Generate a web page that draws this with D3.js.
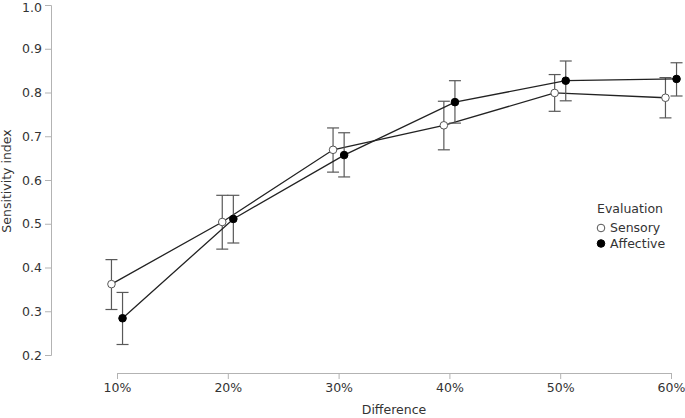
<!DOCTYPE html>
<html>
<head>
<meta charset="utf-8">
<script src="https://cdn.jsdelivr.net/npm/d3@7/dist/d3.min.js"></script>
<style>
  body { margin: 0; background: #fff; }
  text { font-family: "DejaVu Sans", sans-serif; }
</style>
</head>
<body>
<div id="chart"></div>
<script>
var differences = [10, 20, 30, 40, 50, 60];
var sensoryMean  = [0.362, 0.504, 0.669, 0.725, 0.799, 0.788];
var sensoryLow   = [0.304, 0.442, 0.618, 0.669, 0.757, 0.742];
var sensoryHigh  = [0.418, 0.565, 0.719, 0.780, 0.841, 0.834];
var affectiveMean = [0.284, 0.511, 0.657, 0.778, 0.827, 0.831];
var affectiveLow  = [0.224, 0.456, 0.607, 0.730, 0.781, 0.792];
var affectiveHigh = [0.343, 0.565, 0.708, 0.827, 0.872, 0.868];
var yTicks = [0.2, 0.3, 0.4, 0.5, 0.6, 0.7, 0.8, 0.9, 1.0];

var width = 685, height = 418;
var fontSize = "12.5px";

var series = [
    {name: "Sensory", fill: "#fff", mean: sensoryMean, low: sensoryLow, high: sensoryHigh, dodge: -0.5},
    {name: "Affective", fill: "#000", mean: affectiveMean, low: affectiveLow, high: affectiveHigh, dodge: 0.5}
];

var svg = d3.select("#chart")
    .append("svg")
    .attr("width", width)
    .attr("height", height);

var x = d3.scaleLinear().domain([10, 60]).range([117, 671]);
var y = d3.scaleLinear().domain([0.2, 1.0]).range([355, 5]);

var xAxis = d3.axisBottom(x).tickValues(differences)
    .tickFormat(function(d) { return d + "%"; })
    .tickSizeOuter(0).tickSize(6).tickPadding(4);
var yAxis = d3.axisLeft(y).tickValues(yTicks)
    .tickFormat(d3.format(".1f"))
    .tickSizeOuter(0).tickSize(6).tickPadding(3);

var gx = svg.append("g")
    .attr("transform", "translate(0,373)")
    .call(xAxis);
var gy = svg.append("g")
    .attr("transform", "translate(51,0)")
    .call(yAxis);

[gx, gy].forEach(function(g) {
    g.selectAll("path, line").attr("stroke", "#b3b3b3");
    g.selectAll("text").attr("fill", "#333").style("font-size", fontSize)
        .style("font-family", "DejaVu Sans");
});
// keep the top label inside the picture
gy.selectAll(".tick text").filter(function(d) { return d === 1.0; }).attr("dy", "0.48em");

// axis titles
svg.append("text")
    .attr("x", 394)
    .attr("y", 414)
    .attr("text-anchor", "middle")
    .attr("fill", "#333")
    .style("font-size", fontSize)
    .text("Difference");
svg.append("text")
    .attr("transform", "translate(11,181) rotate(-90)")
    .attr("text-anchor", "middle")
    .attr("fill", "#333")
    .style("font-size", fontSize)
    .text("Sensitivity index");

var capHalf = 6;

series.forEach(function(s) {
    var pts = differences.map(function(d, i) {
        return {x: d + s.dodge, m: s.mean[i], lo: s.low[i], hi: s.high[i]};
    });
    var g = svg.append("g");

    // error bars
    var eb = g.selectAll(".eb").data(pts).enter().append("g")
        .attr("stroke", "#595959").attr("stroke-width", 1.2);
    eb.append("line")
        .attr("x1", function(d) { return x(d.x); })
        .attr("x2", function(d) { return x(d.x); })
        .attr("y1", function(d) { return y(d.lo); })
        .attr("y2", function(d) { return y(d.hi); });
    eb.append("line")
        .attr("x1", function(d) { return x(d.x) - capHalf; })
        .attr("x2", function(d) { return x(d.x) + capHalf; })
        .attr("y1", function(d) { return y(d.lo); })
        .attr("y2", function(d) { return y(d.lo); });
    eb.append("line")
        .attr("x1", function(d) { return x(d.x) - capHalf; })
        .attr("x2", function(d) { return x(d.x) + capHalf; })
        .attr("y1", function(d) { return y(d.hi); })
        .attr("y2", function(d) { return y(d.hi); });

    // line
    g.append("path")
        .datum(pts)
        .attr("fill", "none")
        .attr("stroke", "#222")
        .attr("stroke-width", 1.3)
        .attr("d", d3.line().x(function(d) { return x(d.x); }).y(function(d) { return y(d.m); }));
});

// points on top
series.forEach(function(s) {
    svg.append("g").selectAll("circle")
        .data(differences.map(function(d, i) { return {x: d + s.dodge, m: s.mean[i]}; }))
        .enter().append("circle")
        .attr("cx", function(d) { return x(d.x); })
        .attr("cy", function(d) { return y(d.m); })
        .attr("r", 3.8)
        .attr("fill", s.fill)
        .attr("stroke", s.name === "Sensory" ? "#555" : "#000")
        .attr("stroke-width", 1);
});

// legend
var legend = svg.append("g").attr("transform", "translate(597,0)");
legend.append("text")
    .attr("x", 0).attr("y", 213)
    .attr("fill", "#333")
    .style("font-size", fontSize)
    .text("Evaluation");
series.forEach(function(s, i) {
    var ly = 228 + i * 15.5;
    legend.append("circle")
        .attr("cx", 4).attr("cy", ly)
        .attr("r", 3.8)
        .attr("fill", s.fill)
        .attr("stroke", s.name === "Sensory" ? "#555" : "#000");
    legend.append("text")
        .attr("x", 13).attr("y", ly + 4.4)
        .attr("fill", "#333")
        .style("font-size", fontSize)
        .text(s.name);
});
</script>
</body>
</html>
